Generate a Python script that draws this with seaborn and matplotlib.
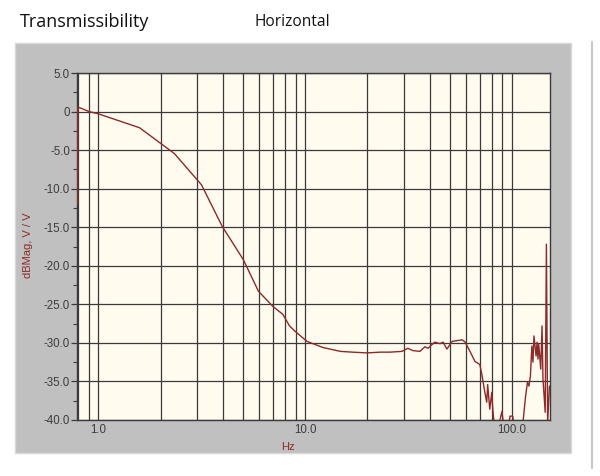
import numpy as np
import pandas as pd
import matplotlib
matplotlib.use("Agg")
import matplotlib.pyplot as plt
from matplotlib.patches import Rectangle
from matplotlib.lines import Line2D
from matplotlib.ticker import FixedLocator, NullFormatter
import seaborn as sns

# -----------------------------
# Data
# -----------------------------
freq_hz = [0.792, 0.793, 0.9, 1.0, 1.58, 2.33, 3.15, 3.97, 5.02, 5.94, 7.0, 7.8, 8.4,
           8.94, 10.2, 12.2, 14.8, 16.9, 19.9, 23.1, 25.8, 29.4, 31.4, 33.2, 35.9,
           38.0, 39.3, 42.4, 44.9, 46.5, 48.5, 51.5, 54.5, 57.5, 59.5, 63.0, 66.3,
           70.0, 71.6, 73.9, 75.6, 76.4, 78.2, 80.0, 80.7, 81.5, 84.0, 89.6, 91.5,
           95.0, 98.0, 101.0, 104.0, 113.0, 116.5, 119.0, 121.0, 123.0, 125.0,
           126.5, 128.0, 131.0, 132.5, 133.8, 135.0, 138.0, 140.0, 141.5, 145.0,
           147.0, 149.0, 152.0]
mag_db = [-12.0, 0.6, 0.0, -0.3, -2.1, -5.45, -9.5, -14.9, -19.2, -23.3, -25.3, -26.3,
          -27.8, -28.5, -29.8, -30.6, -31.1, -31.2, -31.3, -31.2, -31.2, -31.1, -30.7,
          -31.0, -31.1, -30.5, -30.7, -29.9, -30.1, -29.9, -30.8, -29.8, -29.7, -29.6,
          -29.9, -31.2, -32.4, -32.8, -34.1, -36.3, -37.7, -35.4, -38.6, -36.4, -38.2,
          -39.6, -42.0, -38.9, -41.0, -42.0, -39.5, -39.5, -42.0, -40.5, -37.0, -35.1,
          -35.6, -34.3, -30.4, -32.5, -29.1, -31.7, -29.9, -32.1, -30.2, -33.4, -27.8,
          -34.7, -39.0, -17.2, -40.5, -35.6]

y_ticks = [5.0, 0, -5.0, -10.0, -15.0, -20.0, -25.0, -30.0, -35.0, -40.0]
y_tick_labels = ["5.0", "0", "-5.0", "-10.0", "-15.0", "-20.0", "-25.0", "-30.0", "-35.0", "-40.0"]
x_ticks = [1.0, 10.0, 100.0]
x_tick_labels = ["1.0", "10.0", "100.0"]

df = pd.DataFrame({"Hz": freq_hz, "dB": mag_db})

# -----------------------------
# Figure
# -----------------------------
sns.set_style("white")
plt.rcParams["font.family"] = ["Liberation Sans", "DejaVu Sans"]

fig = plt.figure(figsize=(6.0, 4.76), dpi=100)

# grey panel behind the chart
fig.patches.append(Rectangle((15 / 600, 1 - 453 / 476), 556 / 600, 410 / 476,
                             transform=fig.transFigure, facecolor="#c0c0c0",
                             edgecolor="#d8d8d8", linewidth=1, zorder=-5))
fig.lines.append(Line2D([592 / 600, 592 / 600], [1 - 42 / 476, 1 - 468 / 476],
                        transform=fig.transFigure, color="#c8c8c8", linewidth=1.5,
                        zorder=-5))

ax = fig.add_axes([77 / 600, 1 - 420 / 476, 473 / 600, 347 / 476])
ax.set_zorder(2)
ax.set_facecolor("#fffbef")

sns.lineplot(data=df, x="Hz", y="dB", ax=ax, sort=False, estimator=None,
             color="#8c2a2a", linewidth=1.0, zorder=3)

ax.set_xscale("log")
ax.set_xlim(0.787, 153)
ax.set_ylim(-40, 5)

ax.xaxis.set_major_locator(FixedLocator(x_ticks))
ax.set_xticklabels(x_tick_labels)
minor_x = [m * 10.0 ** e for e in (-1, 0, 1, 2) for m in range(2, 10)]
ax.xaxis.set_minor_locator(FixedLocator(minor_x))
ax.xaxis.set_minor_formatter(NullFormatter())

ax.set_yticks(y_ticks)
ax.set_yticklabels(y_tick_labels)
ax.set_yticks(np.arange(-37.5, 5, 5), minor=True)

ax.grid(True, which="both", axis="x", color="#3a3a3a", linewidth=0.9)
ax.grid(True, which="major", axis="y", color="#3a3a3a", linewidth=0.9)
ax.set_axisbelow(True)

ax.tick_params(axis="y", which="major", direction="out", length=4, width=0.9,
               color="#3a3a3a", labelsize=8.3, labelcolor="#3c3c3c", pad=1, left=True)
ax.tick_params(axis="y", which="minor", direction="out", length=3, width=0.8,
               color="#3a3a3a", left=True)
ax.tick_params(axis="x", which="both", length=0, labelsize=8.3, labelcolor="#3c3c3c", pad=3)

for s in ax.spines.values():
    s.set_color("#3a3a3a")
    s.set_linewidth(1.0)
    s.set_zorder(2)

ax.set_xlabel("Hz", color="#8c2a2a", fontsize=8)
ax.xaxis.set_label_coords((288 - 77) / 473, -(442 - 420) / 347)
ax.set_ylabel("dBMag, V / V", color="#8c2a2a", fontsize=8)
ax.yaxis.set_label_coords(-(77 - 33) / 473, (420 - 245) / 347)

# titles above the panel
fig.text(20 / 600, 1 - 22 / 476, "Transmissibility", fontsize=13, family=["Open Sans", "DejaVu Sans"],
         ha="left", va="center", color="#111111")
fig.text(292 / 600, 1 - 22 / 476, "Horizontal", fontsize=11.2, family=["Open Sans", "DejaVu Sans"],
         ha="center", va="center", color="#111111")

plt.savefig("out.png", dpi=100)
plt.close()
